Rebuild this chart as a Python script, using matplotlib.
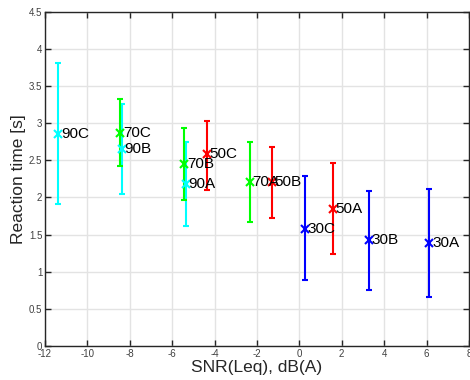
import matplotlib
matplotlib.use("Agg")
import matplotlib.pyplot as plt

plt.rcParams['font.family'] = ['Liberation Sans', 'DejaVu Sans']
plt.rcParams['axes.unicode_minus'] = False

# Conditions: label, SNR (dB(A)), mean reaction time, upper and lower bounds (s)
labels = ["90C", "90B", "90A", "70C", "70B", "70A", "50C", "50B", "50A", "30C", "30B", "30A"]
snr = [-11.37, -8.38, -5.36, -8.45, -5.43, -2.33, -4.36, -1.29, 1.58, 0.28, 3.28, 6.14]
rt_mean = [2.85, 2.65, 2.18, 2.87, 2.45, 2.21, 2.58, 2.21, 1.85, 1.58, 1.42, 1.38]
rt_upper = [3.81, 3.26, 2.74, 3.32, 2.94, 2.74, 3.03, 2.68, 2.46, 2.29, 2.09, 2.11]
rt_lower = [1.91, 2.05, 1.61, 2.42, 1.96, 1.67, 2.10, 1.72, 1.24, 0.89, 0.755, 0.656]
colors = ["#00ffff"] * 3 + ["#00ff00"] * 3 + ["#ff0000"] * 3 + ["#0000ff"] * 3

fig = plt.figure(figsize=(4.7, 3.8), dpi=100)
ax = fig.add_axes([0.0957, 0.0895, 0.902, 0.880])

for lab, x, m, hi, lo, c in zip(labels, snr, rt_mean, rt_upper, rt_lower, colors):
    ax.errorbar(x, m, yerr=[[m - lo], [hi - m]], fmt='x', color=c, ecolor=c,
                elinewidth=1.5, capsize=2, capthick=1.5, markersize=6,
                markeredgewidth=1.5, zorder=3)
    ax.text(x + 0.12, m, lab, fontsize=11, va='center', ha='left', color='black', zorder=4)

ax.set_xlim(-12, 8)
ax.set_ylim(0, 4.5)
ax.set_xticks(range(-12, 9, 2))
ax.set_yticks([0, 0.5, 1, 1.5, 2, 2.5, 3, 3.5, 4, 4.5])
ax.set_yticklabels(["0", "0.5", "1", "1.5", "2", "2.5", "3", "3.5", "4", "4.5"])
ax.grid(True, color='#e3e3e3', linewidth=1.0, zorder=0)
ax.set_axisbelow(True)
ax.tick_params(direction='in', top=True, right=True, labelsize=7, length=4,
               width=1, colors='#262626', labelcolor='#404040', pad=2)
for sp in ax.spines.values():
    sp.set_color('#262626')
    sp.set_linewidth(1.0)

ax.set_xlabel("SNR(Leq), dB(A)", fontsize=12.5, color='#262626', labelpad=1)
ax.set_ylabel("Reaction time [s]", fontsize=12.5, color='#262626', labelpad=2)

fig.savefig("out.png", dpi=100)
